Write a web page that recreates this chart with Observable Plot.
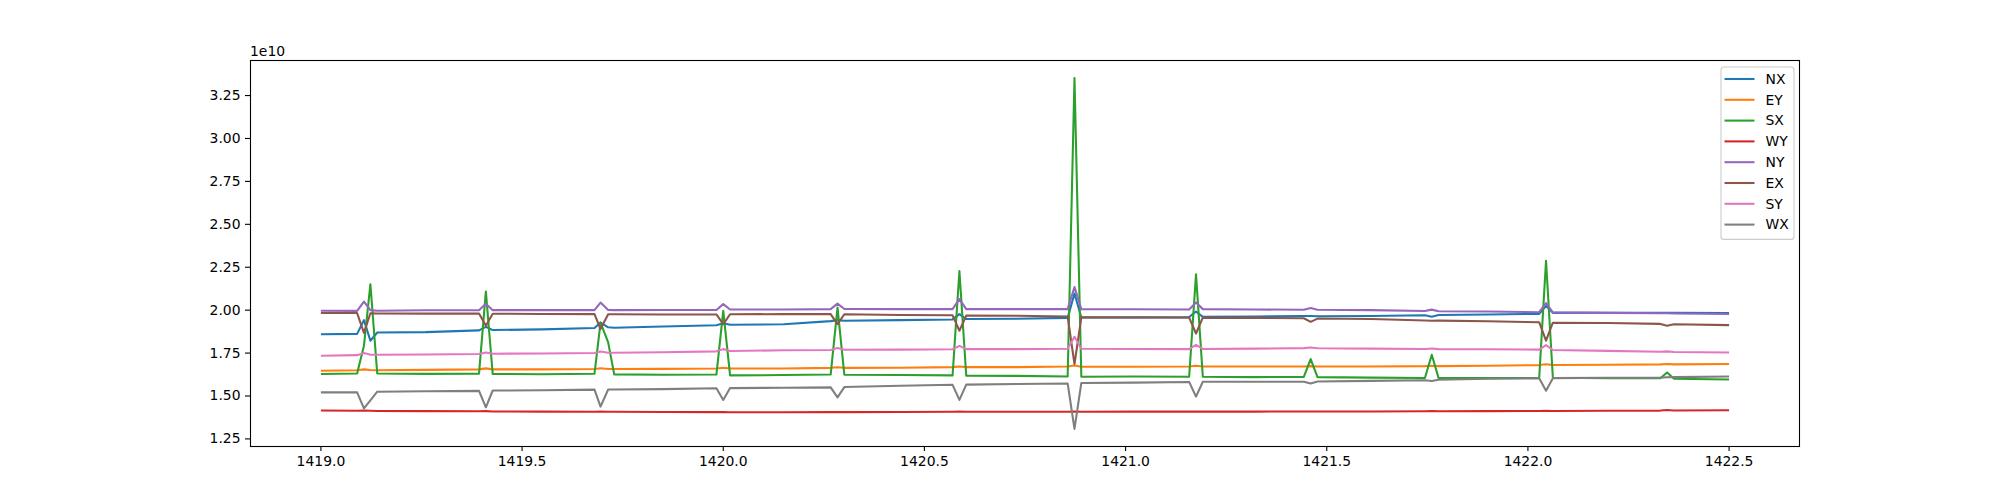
<!DOCTYPE html>
<html>
<head>
<meta charset="utf-8">
<script src="https://cdn.jsdelivr.net/npm/d3@7"></script>
<script src="https://cdn.jsdelivr.net/npm/@observablehq/plot@0.6"></script>
<style>
  html, body { margin: 0; padding: 0; background: #fff; }
  #chart { width: 2000px; height: 500px; }
</style>
</head>
<body>
<div id="chart"></div>
<script>
// ---- data (values in units of 1e10) ----
const t = [1419.000,1419.090,1419.107,1419.123,1419.140,1419.260,1419.393,1419.410,1419.427,1419.550,
  1419.680,1419.695,1419.714,1419.729,1419.850,1419.983,1420.000,1420.017,1420.150,1420.267,
  1420.284,1420.301,1420.440,1420.570,1420.587,1420.604,1420.730,1420.856,1420.873,1420.890,
  1421.020,1421.158,1421.175,1421.192,1421.320,1421.443,1421.460,1421.477,1421.610,1421.744,
  1421.761,1421.778,1421.900,1422.028,1422.045,1422.062,1422.200,1422.329,1422.346,1422.363,1422.500];

const NX = [1.860,1.862,1.942,1.822,1.870,1.872,1.882,1.903,1.884,1.888,
  1.896,1.928,1.900,1.898,1.905,1.912,1.924,1.915,1.918,1.936,
  1.942,1.938,1.942,1.946,1.977,1.948,1.950,1.955,2.097,1.957,
  1.958,1.960,1.992,1.961,1.963,1.966,1.966,1.964,1.966,1.970,
  1.962,1.972,1.975,1.978,2.025,1.984,1.985,1.984,1.985,1.984,1.983];
const EY = [1.647,1.650,1.655,1.651,1.650,1.652,1.655,1.661,1.655,1.655,
  1.657,1.662,1.657,1.657,1.658,1.660,1.665,1.660,1.660,1.664,
  1.667,1.664,1.665,1.668,1.672,1.668,1.668,1.672,1.678,1.670,
  1.670,1.672,1.676,1.672,1.672,1.672,1.674,1.672,1.672,1.674,
  1.676,1.674,1.676,1.680,1.685,1.681,1.682,1.684,1.686,1.684,1.686];
const SX = [1.628,1.631,1.793,2.151,1.631,1.629,1.630,2.108,1.628,1.627,
  1.630,1.928,1.812,1.626,1.624,1.625,1.996,1.620,1.622,1.625,
  2.015,1.624,1.622,1.620,2.228,1.618,1.617,1.614,3.352,1.612,
  1.614,1.612,2.209,1.612,1.610,1.611,1.715,1.610,1.607,1.605,
  1.740,1.604,1.604,1.605,2.288,1.606,1.604,1.603,1.637,1.600,1.596];
const WY = [1.415,1.414,1.415,1.414,1.413,1.412,1.411,1.412,1.410,1.409,
  1.408,1.409,1.408,1.408,1.407,1.406,1.407,1.405,1.405,1.406,
  1.407,1.406,1.407,1.408,1.409,1.408,1.408,1.408,1.410,1.408,
  1.409,1.409,1.410,1.409,1.409,1.410,1.410,1.410,1.410,1.411,
  1.412,1.411,1.412,1.413,1.414,1.413,1.414,1.415,1.418,1.415,1.417];
const NY = [1.997,1.996,2.050,2.000,1.997,1.999,1.999,2.037,2.000,2.000,
  2.000,2.044,2.001,2.000,2.001,2.001,2.035,2.004,2.004,2.006,
  2.038,2.007,2.006,2.006,2.064,2.006,2.006,2.006,2.135,2.006,
  2.005,2.004,2.044,2.006,2.004,2.002,2.012,2.002,2.000,1.995,
  2.003,1.994,1.992,1.988,2.041,1.987,1.984,1.982,1.982,1.981,1.978];
const EX = [1.983,1.983,1.868,1.982,1.981,1.980,1.980,1.909,1.979,1.978,
  1.977,1.890,1.976,1.976,1.975,1.975,1.919,1.976,1.977,1.977,
  1.919,1.976,1.972,1.970,1.880,1.968,1.967,1.963,1.686,1.958,
  1.957,1.956,1.864,1.956,1.955,1.953,1.932,1.951,1.948,1.940,
  1.938,1.939,1.935,1.930,1.822,1.927,1.925,1.920,1.909,1.918,1.913];
const SY = [1.734,1.738,1.750,1.740,1.740,1.742,1.745,1.753,1.746,1.748,
  1.750,1.759,1.752,1.752,1.755,1.760,1.773,1.762,1.766,1.768,
  1.779,1.769,1.770,1.772,1.792,1.773,1.773,1.775,1.845,1.775,
  1.774,1.773,1.798,1.774,1.776,1.779,1.782,1.778,1.776,1.774,
  1.777,1.773,1.772,1.770,1.796,1.768,1.763,1.758,1.760,1.756,1.753];
const WX = [1.521,1.521,1.428,1.475,1.525,1.528,1.530,1.434,1.532,1.533,
  1.537,1.438,1.538,1.538,1.540,1.545,1.477,1.546,1.548,1.550,
  1.492,1.552,1.560,1.565,1.477,1.566,1.570,1.573,1.308,1.576,
  1.578,1.582,1.496,1.583,1.583,1.583,1.573,1.584,1.588,1.592,
  1.587,1.595,1.600,1.603,1.531,1.604,1.606,1.607,1.609,1.610,1.614];

const seriesNames = ["NX","EY","SX","WY","NY","EX","SY","WX"];
const seriesValues = [NX, EY, SX, WY, NY, EX, SY, WX];
const colors = ["#1f77b4","#ff7f0e","#2ca02c","#d62728","#9467bd","#8c564b","#e377c2","#7f7f7f"];
const xTicks = [1419.0,1419.5,1420.0,1420.5,1421.0,1421.5,1422.0,1422.5];
const yTicks = [1.25,1.50,1.75,2.00,2.25,2.50,2.75,3.00,3.25];
const offsetLabel = "1e10";

// ---- build table ----
const rows = [];
seriesNames.forEach((name, s) => {
  seriesValues[s].forEach((v, i) => rows.push({series: name, t: t[i], v}));
});

// matplotlib-like 5% margins
const [x0, x1] = d3.extent(t);
const allV = rows.map(d => d.v);
const [y0, y1] = d3.extent(allV);
const xm = (x1 - x0) * 0.05, ym = (y1 - y0) * 0.05;

const W = 2000, H = 500;
const mL = 250, mR = 201, mT = 60, mB = 54;
const FONT = "DejaVu Sans, sans-serif";
const FS = 13.9;

const svg = Plot.plot({
  width: W, height: H,
  marginLeft: mL, marginRight: mR, marginTop: mT, marginBottom: mB,
  style: {fontFamily: FONT, fontSize: FS + "px", color: "black", background: "white"},
  x: {domain: [x0 - xm, x1 + xm]},
  y: {domain: [y0 - ym, y1 + ym]},
  marks: [
    ...seriesNames.map((name, s) => Plot.line(rows.filter(d => d.series === name), {
      x: "t", y: "v", stroke: colors[s], strokeWidth: 2.08,
      strokeLinejoin: "round", strokeLinecap: "butt"
    })),
    Plot.frame({stroke: "black", strokeWidth: 1.1}),
    Plot.axisX({ticks: xTicks, tickFormat: d => d.toFixed(1), tickSize: 5, tickPadding: 5,
      label: null, fontSize: FS, strokeWidth: 1.1}),
    Plot.axisY({ticks: yTicks, tickFormat: d => d.toFixed(2), tickSize: 5, tickPadding: 5,
      label: null, fontSize: FS, strokeWidth: 1.1})
  ]
});

document.getElementById("chart").appendChild(svg);

const g = d3.select(svg).append("g")
  .attr("font-family", FONT).attr("font-size", FS).attr("text-anchor", "start");

// offset text
g.append("text").attr("x", mL).attr("y", 56).attr("fill", "black")
  .attr("text-anchor", "start").text(offsetLabel);

// legend
const lgRight = W - mR - 5, lgTop = mT + 7;
const lgW = 73, rowH = 20.8;
const lgH = seriesNames.length * rowH + 6;
const lgX = lgRight - lgW;
g.append("rect").attr("x", lgX).attr("y", lgTop).attr("width", lgW).attr("height", lgH)
  .attr("rx", 3).attr("fill", "white").attr("fill-opacity", 0.8)
  .attr("stroke", "#cccccc").attr("stroke-width", 1.1);
seriesNames.forEach((name, i) => {
  const cy = lgTop + 12 + i * rowH;
  g.append("line").attr("x1", lgX + 3.5).attr("x2", lgX + 33.5).attr("y1", cy).attr("y2", cy)
    .attr("stroke", colors[i]).attr("stroke-width", 2.08);
  g.append("text").attr("x", lgX + 44.5).attr("y", cy).attr("dy", "0.35em")
    .attr("text-anchor", "start").attr("fill", "black").text(name);
});
</script>
</body>
</html>
